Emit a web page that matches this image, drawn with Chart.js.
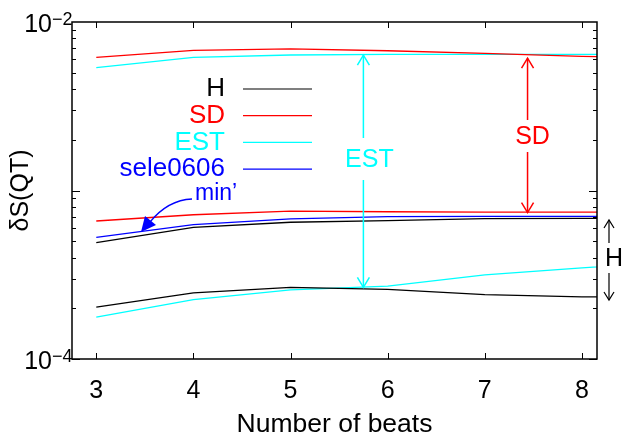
<!DOCTYPE html>
<html>
<head>
<meta charset="utf-8">
<script src="https://cdn.jsdelivr.net/npm/chart.js@4.4.0/dist/chart.umd.min.js"></script>
<style>
  html, body { margin: 0; padding: 0; background: #fff; }
</style>
</head>
<body>
<canvas id="qtChart" width="623" height="438"></canvas>
<script>
// number of beats (last point lies just past the right edge of the plot)
const beats = [3, 4, 5, 6, 7, 8, 9];

const hUpper   = [0.000490, 0.000605, 0.000648, 0.000662, 0.000681, 0.000683, 0.000684];
const hLower   = [0.000203, 0.000247, 0.000266, 0.000259, 0.000241, 0.000234, 0.000232];
const sdUpper  = [0.00617, 0.00679, 0.00692, 0.00675, 0.00652, 0.00626, 0.00603];
const sdLower  = [0.000659, 0.000718, 0.000755, 0.000748, 0.000745, 0.000745, 0.000745];
const estUpper = [0.00536, 0.00617, 0.00637, 0.00643, 0.00643, 0.00643, 0.00643];
const estLower = [0.000177, 0.000225, 0.000257, 0.000271, 0.000316, 0.000347, 0.000382];
const sele0606 = [0.000527, 0.000627, 0.000678, 0.000700, 0.000702, 0.000703, 0.000703];

const xTicks = [3, 4, 5, 6, 7, 8];
const yTickExponents = [-4, -2];

const legendLabels = ['H', 'SD', 'EST', 'sele0606'];
const legendColors = ['#000000', '#ff0000', '#00ffff', '#0000ff'];

const FONT = '"Liberation Sans", Arial, Helvetica, sans-serif';

function series(values) {
    return values.map((v, i) => ({ x: beats[i], y: v }));
}

function line(label, values, color) {
    return {
        label: label,
        data: series(values),
        borderColor: color,
        backgroundColor: color,
        borderWidth: 1.3,
        pointRadius: 0,
        tension: 0,
        fill: false,
    };
}

const data = {
    datasets: [
        line('SD', sdUpper, '#ff0000'),
        line('EST', estUpper, '#00ffff'),
        line('SD', sdLower, '#ff0000'),
        line('sele0606', sele0606, '#0000ff'),
        line('H', hUpper, '#000000'),
        line('H', hLower, '#000000'),
        line('EST', estLower, '#00ffff'),
    ]
};

function openHead(ctx, x, y, dir) {
    // dir: -1 points up, +1 points down
    ctx.beginPath();
    ctx.moveTo(x - 6, y - dir * 10);
    ctx.lineTo(x, y);
    ctx.lineTo(x + 6, y - dir * 10);
    ctx.stroke();
}

function vArrow(ctx, x, yTop, yBot, gapTop, gapBot, color) {
    ctx.strokeStyle = color;
    ctx.lineWidth = 1.5;
    ctx.beginPath();
    ctx.moveTo(x, yTop);
    ctx.lineTo(x, gapTop);
    ctx.moveTo(x, gapBot);
    ctx.lineTo(x, yBot);
    ctx.stroke();
    openHead(ctx, x, yTop, -1);
    openHead(ctx, x, yBot, 1);
}

const framePlugin = {
    id: 'frame',
    afterDatasetsDraw(chart) {
        const ctx = chart.ctx;
        const { left, right, top, bottom } = chart.chartArea;
        const xs = chart.scales.x;
        const ys = chart.scales.y;
        ctx.save();
        ctx.strokeStyle = '#000';
        ctx.lineWidth = 1;
        ctx.beginPath();
        xTicks.forEach(v => {
            const px = Math.round(xs.getPixelForValue(v)) + 0.5;
            ctx.moveTo(px, bottom); ctx.lineTo(px, bottom - 6);
            ctx.moveTo(px, top); ctx.lineTo(px, top + 6);
        });
        for (let k = -4; k <= -3; k++) {
            for (let m = 1; m <= 9; m++) {
                const py = Math.round(ys.getPixelForValue(m * Math.pow(10, k))) + 0.5;
                const len = m === 1 ? 8 : 4;
                ctx.moveTo(left, py); ctx.lineTo(left + len, py);
                ctx.moveTo(right, py); ctx.lineTo(right - len, py);
            }
        }
        ctx.stroke();
        ctx.lineWidth = 1.5;
        ctx.strokeRect(left, top, right - left, bottom - top);

        // y tick labels 10^k
        ctx.fillStyle = '#000';
        ctx.textBaseline = 'middle';
        yTickExponents.forEach(k => {
            const py = ys.getPixelForValue(Math.pow(10, k));
            ctx.font = '25px ' + FONT;
            ctx.textAlign = 'right';
            ctx.fillText('10', 52, py + 3);
            ctx.font = '18px ' + FONT;
            ctx.textAlign = 'left';
            ctx.fillText('\u2212' + Math.abs(k), 52, py - 2);
        });

        // legend
        ctx.font = '26px ' + FONT;
        ctx.textAlign = 'right';
        legendLabels.forEach((lab, i) => {
            const y = 89 + i * 26.7;
            ctx.fillStyle = legendColors[i];
            ctx.fillText(lab, 225, y);
            ctx.strokeStyle = legendColors[i];
            ctx.lineWidth = 1.2;
            ctx.beginPath();
            ctx.moveTo(243, y); ctx.lineTo(312, y);
            ctx.stroke();
        });

        // EST arrow
        ctx.font = '25px ' + FONT;
        const ex = xs.getPixelForValue(5.75);
        vArrow(ctx, ex, ys.getPixelForValue(0.00636), ys.getPixelForValue(0.000266), 138, 180, '#00ffff');
        ctx.fillStyle = '#00ffff';
        ctx.textAlign = 'center';
        ctx.fillText('EST', ex + 6, 160);

        // SD arrow
        const sx = xs.getPixelForValue(7.44);
        vArrow(ctx, sx, ys.getPixelForValue(0.0061), ys.getPixelForValue(0.00074), 120, 152, '#ff0000');
        ctx.fillStyle = '#ff0000';
        ctx.fillText('SD', sx + 5, 137);

        // H arrow (outside the plot, right margin)
        const hx = 609;
        ctx.strokeStyle = '#000';
        ctx.lineWidth = 1.2;
        ctx.beginPath();
        ctx.moveTo(hx, 220); ctx.lineTo(hx, 243);
        ctx.moveTo(hx, 273); ctx.lineTo(hx, 300);
        ctx.stroke();
        ctx.beginPath();
        ctx.moveTo(hx - 5, 228); ctx.lineTo(hx, 220); ctx.lineTo(hx + 5, 228);
        ctx.moveTo(hx - 5, 292); ctx.lineTo(hx, 300); ctx.lineTo(hx + 5, 292);
        ctx.stroke();
        ctx.fillStyle = '#000';
        ctx.fillText('H', hx + 5, 259);

        // min' label with curved arrow
        ctx.fillStyle = '#0000ff';
        ctx.font = '23px ' + FONT;
        ctx.textAlign = 'left';
        ctx.fillText('min\u2019', 195, 194);
        ctx.strokeStyle = '#0000ff';
        ctx.lineWidth = 1.3;
        ctx.beginPath();
        ctx.moveTo(192, 199);
        ctx.quadraticCurveTo(168, 200, 150, 222);
        ctx.stroke();
        ctx.beginPath();
        ctx.moveTo(141, 232);
        ctx.lineTo(145, 216);
        ctx.lineTo(156, 225);
        ctx.closePath();
        ctx.fill();

        ctx.restore();
    }
};

const config = {
    type: 'line',
    data: data,
    options: {
        responsive: false,
        animation: false,
        layout: { padding: { top: 22, right: 26, left: 0, bottom: 0 } },
        plugins: {
            legend: { display: false },
            tooltip: { enabled: false },
        },
        scales: {
            x: {
                type: 'linear',
                min: 2.75,
                max: 8.155,
                afterBuildTicks: (scale) => { scale.ticks = xTicks.map(v => ({ value: v })); },
                afterFit: (scale) => { scale.height = 79; },
                grid: { display: false },
                border: { display: false },
                ticks: {
                    color: '#000',
                    padding: 9,
                    maxRotation: 0,
                    font: { family: FONT, size: 25 },
                },
                title: {
                    display: true,
                    text: 'Number of beats',
                    color: '#000',
                    font: { family: FONT, size: 26.5, lineHeight: 1 },
                    padding: 0,
                },
            },
            y: {
                type: 'logarithmic',
                min: 1e-4,
                max: 1e-2,
                afterFit: (scale) => { scale.width = 72; },
                grid: { display: false },
                border: { display: false },
                ticks: { display: false },
                title: {
                    display: true,
                    text: '\u03b4S(QT)',
                    color: '#000',
                    font: { family: FONT, size: 25, lineHeight: 1 },
                    padding: { top: 9, bottom: 0 },
                },
            }
        }
    },
    plugins: [framePlugin]
};

const qtChart = new Chart(document.getElementById('qtChart'), config);
</script>
</body>
</html>
